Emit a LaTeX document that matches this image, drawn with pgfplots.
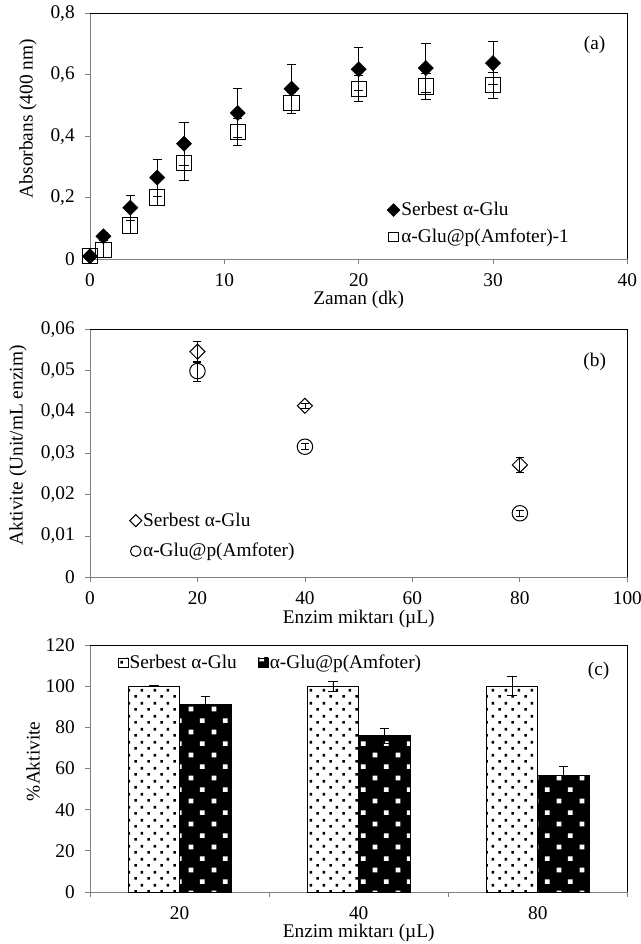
\documentclass[border=0pt]{standalone}
\usepackage{fontspec}
\setmainfont{Liberation Serif}
\usepackage{pgfplots}
\pgfplotsset{compat=1.18}
\usetikzlibrary{patterns}
\newcommand{\fs}{\fontsize{14.5}{17}\selectfont}

\pgfdeclarepatterninherentlycolored{sdots}{\pgfpointorigin}{\pgfqpoint{10pt}{9.5pt}}{\pgfqpoint{10pt}{9.5pt}}{%
  \pgfsetfillcolor{white}\pgfpathrectangle{\pgfpointorigin}{\pgfqpoint{10pt}{9.5pt}}\pgfusepath{fill}%
  \pgfsetfillcolor{black}%
  \pgfpathrectangle{\pgfqpoint{1pt}{1pt}}{\pgfqpoint{2pt}{2pt}}%
  \pgfpathrectangle{\pgfqpoint{6pt}{5.75pt}}{\pgfqpoint{2pt}{2pt}}%
  \pgfusepath{fill}}
\pgfdeclarepatterninherentlycolored{wsq}{\pgfpointorigin}{\pgfqpoint{17.5pt}{17.5pt}}{\pgfqpoint{17.5pt}{17.5pt}}{%
  \pgfsetfillcolor{black}\pgfpathrectangle{\pgfpointorigin}{\pgfqpoint{17.5pt}{17.5pt}}\pgfusepath{fill}%
  \pgfsetfillcolor{white}%
  \pgfpathrectangle{\pgfqpoint{2pt}{2pt}}{\pgfqpoint{3.6pt}{3.6pt}}%
  \pgfpathrectangle{\pgfqpoint{10.75pt}{10.75pt}}{\pgfqpoint{3.6pt}{3.6pt}}%
  \pgfusepath{fill}}

\pgfplotstableread{
x y e
0 0.010 0.005
1 0.075 0.012
3 0.168 0.040
5 0.266 0.060
7 0.376 0.070
11 0.476 0.080
15 0.555 0.080
20 0.618 0.070
25 0.622 0.080
30 0.638 0.070
}\serbA
\pgfplotstableread{
x y e
0 0.012 0.005
1 0.030 0.025
3 0.110 0.025
5 0.201 0.027
7 0.312 0.055
11 0.414 0.045
15 0.508 0.035
20 0.555 0.042
25 0.562 0.043
30 0.566 0.043
}\amfA
\pgfplotstableread{
x y e
20 0.0546 0.0025
40 0.0415 0.0006
80 0.0272 0.0017
}\serbB
\pgfplotstableread{
x y e
20 0.0499 0.0024
40 0.0316 0.0007
80 0.0155 0.0007
}\amfB
\pgfplotstableread{
x y e
1 100 0.3
2 100 2.4
3 100 4.7
}\serbC
\pgfplotstableread{
x y e
1 91.3 3.9
2 76.0 3.7
3 56.8 4.2
}\amfC

\pgfplotsset{
  panel/.style={
    scale only axis, width=403pt,
    axis line style={draw=gray, line width=0.75pt},
    tick align=outside, xtick pos=left, ytick pos=left,
    major tick length=3.75pt, minor tick length=3.75pt,
    tick style={gray, line width=0.6pt},
    ticklabel style={font=\fs},
    yticklabel style={xshift=-4.2pt},
    xticklabel style={yshift=-3.5pt},
    scaled ticks=false,
    /pgf/number format/assume math mode=true,
    clip=false,
    legend cell align=left,
    legend style={draw=none, fill=none, font=\fs, row sep=4pt, nodes={inner sep=1pt}},
    legend image code/.code={\draw[mark repeat=2,mark phase=2,##1] plot coordinates {(0cm,0cm) (0.2cm,0cm) (0.4cm,0cm)};},
    error bars/error bar style={black, line width=0.6pt},
    error bars/error mark options={rotate=90, mark size=3.5pt, black, line width=0.6pt},
  },
}

\begin{document}
\begin{tikzpicture}
% ---------- (a)
\begin{axis}[panel, at={(67.5pt,-194.5pt)}, anchor=south west, height=184.5pt,
  xmin=0, xmax=40, ymin=0, ymax=0.8,
  xtick={0,10,20,30,40}, ytick={0,0.2,0.4,0.6,0.8},
  yticklabels={0,{0,2},{0,4},{0,6},{0,8}},
  legend style={at={(0.545,0.249)}, anchor=north west, row sep=6.25pt},
  legend image post style={mark size=3.4pt},
]
\addplot[only marks, mark=square*, mark options={rotate=45, fill=black, draw=black}, mark size=4pt,
  error bars/.cd, y dir=both, y explicit] table[x=x, y=y, y error=e] {\serbA};
\addlegendentry{Serbest α-Glu}
\addplot[only marks, mark=square, mark options={draw=black, line width=0.75pt}, mark size=5.7pt,
  error bars/.cd, y dir=both, y explicit] table[x=x, y=y, y error=e] {\amfA};
\addlegendentry{α-Glu@p(Amfoter)-1}
\draw[black, line width=0.75pt] (rel axis cs:0,1) -- (rel axis cs:1,1) -- (rel axis cs:1,0);
\end{axis}
% ---------- (b)
\begin{axis}[panel, at={(67.5pt,-433pt)}, anchor=south west, height=186pt,
  xmin=0, xmax=100, ymin=0, ymax=0.06,
  xtick={0,20,40,60,80,100}, ytick={0,0.01,0.02,0.03,0.04,0.05,0.06},
  yticklabels={0,{0,01},{0,02},{0,03},{0,04},{0,05},{0,06}},
  legend style={at={(0.066,0.277)}, anchor=north west, row sep=9.25pt},
  error bars/error mark options={rotate=90, mark size=3pt, black, line width=0.6pt},
]
\addplot[only marks, mark=square, mark options={rotate=45, draw=black, line width=0.75pt}, mark size=4pt,
  legend image post style={mark size=3.2pt},
  error bars/.cd, y dir=both, y explicit] table[x=x, y=y, y error=e] {\serbB};
\addlegendentry{Serbest α-Glu}
\addplot[only marks, mark=o, mark options={draw=black, line width=0.75pt}, mark size=5.8pt,
  legend image post style={mark size=4pt},
  error bars/.cd, y dir=both, y explicit] table[x=x, y=y, y error=e] {\amfB};
\addlegendentry{α-Glu@p(Amfoter)}
\draw[black, line width=0.75pt] (rel axis cs:0,1) -- (rel axis cs:1,1) -- (rel axis cs:1,0);
\end{axis}
% ---------- (c)
\begin{axis}[panel, at={(67.5pt,-669pt)}, anchor=south west, height=185.25pt,
  xmin=0.5, xmax=3.5, ymin=0, ymax=120,
  ybar=0pt, bar width=0.287,
  xtick={1,2,3}, xticklabels={20,40,80}, major x tick style={draw=none},
  minor xtick={0.5,1.5,2.5,3.5},
  ytick={0,20,40,60,80,100,120},
  legend columns=2,
  legend style={at={(0.044,0.977)}, anchor=north west},
  legend image code/.code={\draw[#1] (0pt,-3.6pt) rectangle (7.2pt,3.6pt);},
]
\addplot[draw=black, line width=0.5pt, pattern=sdots,
  error bars/.cd, y dir=both, y explicit] table[x=x, y=y, y error=e] {\serbC};
\addlegendentry{Serbest α-Glu\hspace*{15pt}}
\addplot[draw=black, line width=0.5pt, pattern=wsq,
  error bars/.cd, y dir=both, y explicit] table[x=x, y=y, y error=e] {\amfC};
\addlegendentry{α-Glu@p(Amfoter)}
\draw[black, line width=0.75pt] (rel axis cs:0,1) -- (rel axis cs:1,1) -- (rel axis cs:1,0);
\end{axis}
% ---------- labels
\node[rotate=90, font=\fs] at (21pt,-89pt) {Absorbans (400 nm)};
\node[font=\fs] at (269pt,-225pt) {Zaman (dk)};
\node[font=\fs] at (446pt,-33.75pt) {(a)};
\node[rotate=90, font=\fs] at (13.5pt,-334pt) {Aktivite (Unit/mL enzim)};
\node[font=\fs] at (269pt,-464pt) {Enzim miktarı (µL)};
\node[font=\fs] at (446pt,-271.5pt) {(b)};
\node[rotate=90, font=\fs] at (24.75pt,-571pt) {\%Aktivite};
\node[font=\fs] at (269pt,-700pt) {Enzim miktarı (µL)};
\node[font=\fs] at (449pt,-503pt) {(c)};
\pgfresetboundingbox
\path[use as bounding box] (0pt,0pt) rectangle (480pt,-708pt);
\end{tikzpicture}
\end{document}
